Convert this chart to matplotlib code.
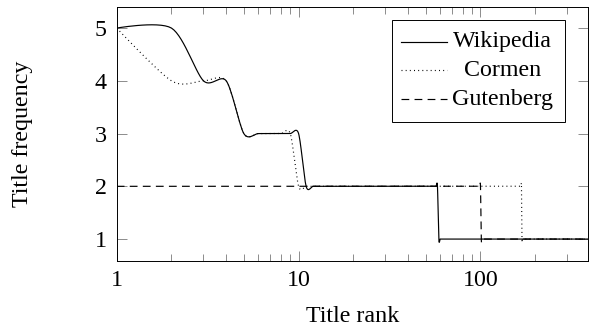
import numpy as np
import matplotlib
matplotlib.use("Agg")
import matplotlib.pyplot as plt
from matplotlib.patches import Rectangle
from matplotlib.ticker import LogLocator, FixedLocator, FixedFormatter, NullFormatter

plt.rcParams['font.family'] = ['Liberation Serif', 'DejaVu Serif']
plt.rcParams['font.size'] = 17.3
plt.rcParams['lines.scale_dashes'] = False

# title frequency per rank, kept as runs: level and the last rank that has it
max_rank = 390
wiki_levels = [5, 4, 3, 2, 1]
wiki_last_rank = [2, 4, 10, 58, max_rank]
cormen_levels = [5, 4, 3, 2, 1]
cormen_last_rank = [1, 4, 9, 168, max_rank]
gutenberg_levels = [2, 1]
gutenberg_last_rank = [100, max_rank]


def expand(levels, last):
    counts = np.diff([0] + last)
    y = np.repeat(levels, counts).astype(float)
    x = np.arange(1, len(y) + 1)
    return x, y


def smooth(x, y, f=0.14, n=16):
    # tikz-like "smooth" curve, done in (log x, y) space
    u = np.log10(x)
    p = np.column_stack([u, y])
    k = len(p)
    s = np.linspace(0, 1, n)[:, None]
    out = [p[:1]]
    for i in range(k - 1):
        p0, p3 = p[i], p[i + 1]
        c1 = p0 if i == 0 else p0 + f * (p[i + 1] - p[i - 1])
        c2 = p3 if i == k - 2 else p3 - f * (p[i + 2] - p[i])
        b = ((1 - s) ** 3 * p0 + 3 * (1 - s) ** 2 * s * c1
             + 3 * (1 - s) * s ** 2 * c2 + s ** 3 * p3)
        out.append(b[1:])
    pts = np.vstack(out)
    return 10 ** pts[:, 0], pts[:, 1]


fig = plt.figure(figsize=(5.9, 3.31), dpi=100)
ax = fig.add_axes([0.1978, 0.2124, 0.9966 - 0.1978, 0.9789 - 0.2124])

lw = 0.85
styles = {
    'Wikipedia': dict(ls='-'),
    'Cormen': dict(ls=(0, (0.7, 2.3))),
    'Gutenberg': dict(ls=(0, (5.6, 3.8))),
}
series = {
    'Wikipedia': (wiki_levels, wiki_last_rank),
    'Cormen': (cormen_levels, cormen_last_rank),
    'Gutenberg': (gutenberg_levels, gutenberg_last_rank),
}
for name, (lev, last) in series.items():
    x, y = expand(lev, last)
    sx, sy = smooth(x, y)
    ax.plot(sx, sy, color='black', lw=lw, **styles[name])

ax.set_xscale('log')
ax.set_xlim(1, max_rank)
ax.set_ylim(0.59, 5.40)
ax.xaxis.set_major_locator(FixedLocator([1, 10, 100]))
ax.xaxis.set_major_formatter(FixedFormatter(['1', '10', '100']))
ax.xaxis.set_minor_locator(LogLocator(base=10, subs=np.arange(2, 10)))
ax.xaxis.set_minor_formatter(NullFormatter())
ax.set_yticks([1, 2, 3, 4, 5])

ax.tick_params(which='both', direction='in', top=True, right=True,
               color='0.55', width=0.7)
ax.tick_params(which='major', length=7.2, pad=7)
ax.tick_params(which='minor', length=4.7)
for sp in ax.spines.values():
    sp.set_linewidth(0.7)

ax.set_xlabel('Title rank')
ax.set_ylabel('Title frequency')
ax.xaxis.set_label_coords(0.5, -0.218)
ax.xaxis.label.set_va('center')
ax.yaxis.set_label_coords(-0.199, 0.5)
ax.yaxis.label.set_va('center')

# legend box, pgfplots style (centered entries)
ax.add_patch(Rectangle((0.584, 0.547), 0.952 - 0.584, 0.949 - 0.547,
                       transform=ax.transAxes, facecolor='white',
                       edgecolor='black', lw=0.7, zorder=5))
rows = [0.862, 0.750, 0.637]
for name, ry in zip(series, rows):
    ax.plot([0.603, 0.701], [ry, ry], transform=ax.transAxes, color='black',
            lw=lw, zorder=6, **styles[name])
    ax.text(0.818, ry, name, transform=ax.transAxes, ha='center',
            va='center', zorder=6)

fig.savefig('out.png', dpi=100)
